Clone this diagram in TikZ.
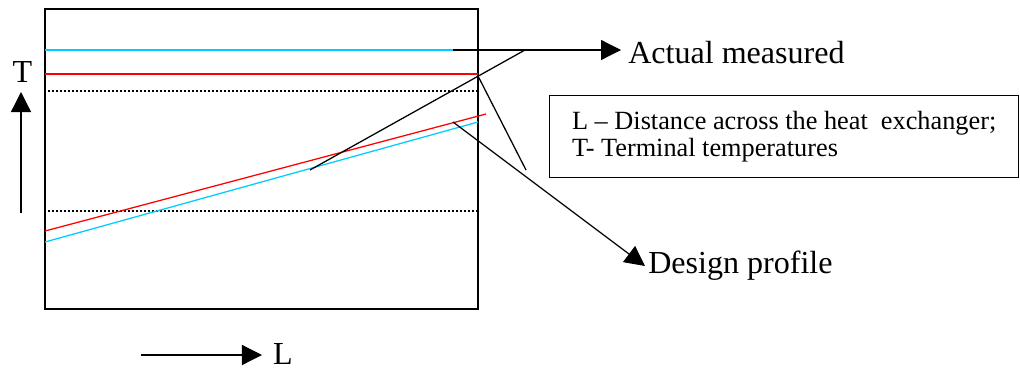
\documentclass[tikz,border=0pt]{standalone}
\usepackage{fontspec}
\setmainfont{Liberation Serif}
\usetikzlibrary{arrows.meta,positioning}
\definecolor{hotline}{RGB}{255,0,0}
\definecolor{coldline}{RGB}{0,204,255}
\tikzset{
    frame/.style = {draw, line width=0.9pt},
    hot/.style = {draw=hotline, line width=0.9pt},
    cold/.style = {draw=coldline, line width=0.9pt},
    guide/.style = {draw, line width=0.8pt, dash pattern=on 0.04cm off 0.06cm},
    pointer/.style = {draw, line width=0.9pt},
    arrow/.style = {draw, line width=0.9pt, -{Triangle[length=0.5cm,width=0.5cm]}},
    biglabel/.style = {inner sep=0, font=\fontsize{22.8}{27}\selectfont},
    legend/.style = {draw, line width=0.9pt, align=left,
        minimum width=11.725cm, minimum height=2.05cm,
        font=\fontsize{18.7}{19.2}\selectfont}
}

\begin{document}
\begin{tikzpicture}[x=0.025cm, y=-0.025cm]
    \useasboundingbox (0,0) rectangle (1020,369);
    \draw [frame] (45,9) rectangle (478,309);
    % terminal temperature profiles
    \coordinate (pa) at (453,50);
    \draw [cold] (45,50) -- (pa);
    \draw [hot] (45,74) -- (478,74);
    \draw [guide] (48,91) -- (478,91);
    \draw [guide] (48,211) -- (478,211);
    \draw [hot] (45,231) -- (486,114);
    \draw [cold] (45,242) -- (478,122);
    % callouts
    \coordinate (pb) at (525,50);
    \coordinate (pc) at (310,170);
    \coordinate (pv) at (478,76);
    \coordinate (pd) at (526,170);
    \coordinate (pe) at (453,122);
    \node [biglabel, anchor=west, inner xsep=0.175cm] (actual) at (621,53) {Actual measured};
    \node [biglabel, anchor=west, inner xsep=0.075cm] (design) at (645,266) {Design profile};
    \draw [arrow] (pa) -- (pa -| actual.west);
    \draw [pointer] (pc) -- (pb);
    \draw [pointer] (pv) -- (pd);
    \draw [arrow] (pe) -- (design.west);
    \node [legend, anchor=north west] (legend) at (549,95)
        {L – Distance across the heat\ \ exchanger;\\T- Terminal temperatures};
    % axes
    \node [biglabel] (tlab) at (22.5,72) {T};
    \coordinate (tfoot) at (21,213);
    \coordinate (ttip) at (21,92);
    \draw [arrow] (tfoot) -- (ttip);
    \node [biglabel] (llab) at (283,353.5) {L};
    \coordinate (lfoot) at (141,355);
    \coordinate (ltip) at (262,355);
    \draw [arrow] (lfoot) -- (ltip);
\end{tikzpicture}
\end{document}
